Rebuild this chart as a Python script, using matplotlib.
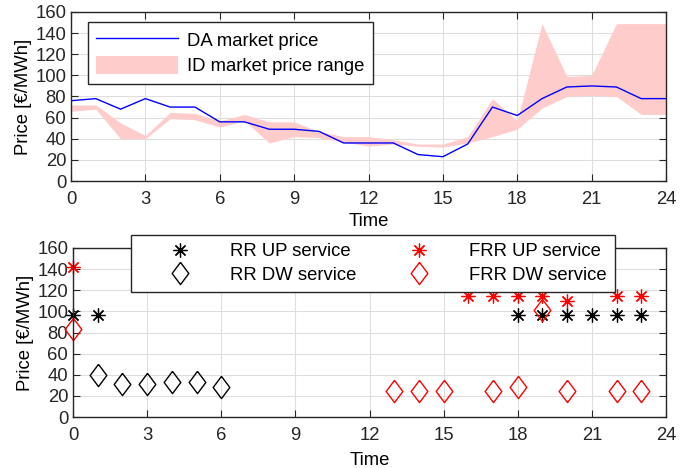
import matplotlib
matplotlib.use("Agg")
import matplotlib.pyplot as plt
import numpy as np
from matplotlib.patches import Patch
from matplotlib.lines import Line2D

plt.rcParams["font.family"] = ["Liberation Sans", "DejaVu Sans"]
plt.rcParams["font.size"] = 13.3

# top panel: hourly prices
hours = np.arange(0, 25)
da_price = [76, 78, 68, 78, 70, 70, 56, 56, 49, 49, 47, 36, 36,
            36, 25, 23, 35, 70, 62, 78, 89, 90, 89, 78, 78]
id_low = [66, 68, 40, 40, 59, 58, 51, 57, 36, 42, 41, 37, 33,
          35, 33, 32, 36, 42, 49, 69, 80, 81, 80, 63, 63]
id_high = [72, 72, 55, 43, 65, 64, 57, 63, 56, 56, 47, 42, 42,
           39, 35, 35, 42, 78, 57, 149, 99, 100, 149, 149, 149]

# bottom panel: balancing service prices
rr_up_t = [0, 1, 18, 19, 20, 21, 22, 23]
rr_up_p = [97, 97, 97, 97, 97, 97, 97, 97]
rr_dw_t = [1, 2, 3, 4, 5, 6]
rr_dw_p = [40, 31.5, 31.5, 33, 33, 28]
frr_up_t = [0, 16, 17, 18, 19, 20, 22, 23]
frr_up_p = [142, 115, 115, 115, 115, 110, 115, 115]
frr_dw_t = [0, 13, 14, 15, 17, 18, 19, 20, 22, 23]
frr_dw_p = [83, 25, 25, 25, 25, 28, 101, 25, 25, 25]

xticks = np.arange(0, 25, 3)
yticks = np.arange(0, 161, 20)

asterisk = (8, 2, 0)
diamond = [(0, 1), (0.75, 0), (0, -1), (-0.75, 0), (0, 1)]


def style_axes(ax, xpad=4):
    ax.set_xlim(0, 24)
    ax.set_ylim(0, 160)
    ax.set_xticks(xticks)
    ax.set_yticks(yticks)
    ax.grid(True, color="#dedede", lw=0.8)
    ax.set_axisbelow(True)
    ax.tick_params(direction="in", top=True, right=True, length=5,
                   colors="#262626", labelcolor="#262626")
    ax.tick_params(axis="x", pad=7)
    for s in ax.spines.values():
        s.set_color("#262626")
        s.set_linewidth(1.0)
    ax.set_xlabel("Time", labelpad=xpad)
    ax.set_ylabel("Price [€/MWh]", labelpad=2)


fig = plt.figure(figsize=(6.89, 4.68), dpi=100)

ax1 = fig.add_axes([71 / 689, 1 - 181 / 468, 595 / 689, 169 / 468])
ax1.fill_between(hours, id_low, id_high, color="#ffcccc", lw=0)
ax1.plot(hours, da_price, color="blue", lw=1.0)
style_axes(ax1)
h1 = [Line2D([], [], color="blue", lw=1.0),
      Patch(facecolor="#ffcccc", edgecolor="none")]
ax1.legend(h1, ["DA market price", "ID market price range"],
           loc="upper left", bbox_to_anchor=(17 / 595, 1 - 10 / 169),
           fancybox=False, edgecolor="#262626", framealpha=1,
           handlelength=4.4, handleheight=1.2, handletextpad=0.5,
           borderpad=0.45, labelspacing=0.3, borderaxespad=0)

ax2 = fig.add_axes([73 / 689, 1 - 417 / 468, 593 / 689, 169 / 468])
ax2.plot(rr_up_t, rr_up_p, ls="none", marker=asterisk, ms=10, mec="black",
         mew=0.9, label="RR UP service")
ax2.plot(rr_dw_t, rr_dw_p, ls="none", marker=diamond, ms=16, mfc="none",
         mec="black", mew=1.0, label="RR DW service")
ax2.plot(frr_up_t, frr_up_p, ls="none", marker=asterisk, ms=10, mec="red",
         mew=0.9, label="FRR UP service")
ax2.plot(frr_dw_t, frr_dw_p, ls="none", marker=diamond, ms=16, mfc="none",
         mec="red", mew=1.0, label="FRR DW service")
style_axes(ax2, xpad=6)
for a in ax2.lines:
    a.set_clip_on(False)
fig.legend(loc="upper left", bbox_to_anchor=(131 / 689, 1 - 235 / 468),
           ncol=2, fancybox=False, edgecolor="#262626", framealpha=1,
           handlelength=4.4, handletextpad=0.5, columnspacing=1.2,
           borderpad=0.45, labelspacing=0.35, borderaxespad=0)

fig.savefig("out.png", dpi=100)
